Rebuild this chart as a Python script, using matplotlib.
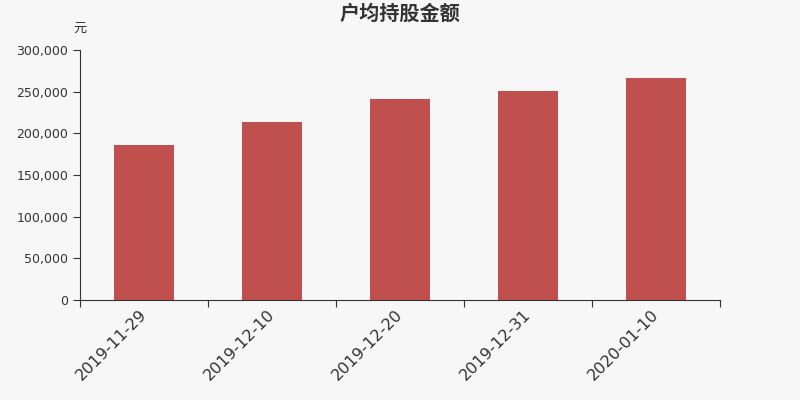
import matplotlib.pyplot as plt
import numpy as np
from matplotlib.ticker import FuncFormatter, FixedLocator

plt.rcParams['font.family'] = ['DejaVu Sans', 'Noto Sans CJK SC']

dates = ["2019-11-29", "2019-12-10", "2019-12-20", "2019-12-31", "2020-01-10"]
amounts = [185600, 213200, 241500, 250800, 266000]

BG = "#f7f7f7"
BAR = "#c0504d"
TXT = "#333333"

fig = plt.figure(figsize=(8, 4), dpi=100, facecolor=BG)
ax = fig.add_axes([0.1, 0.25, 0.8, 0.625], facecolor=BG)

x = np.arange(len(dates))
ax.bar(x, amounts, width=0.47, color=BAR, edgecolor="none", zorder=2)

ax.set_xlim(-0.5, len(dates) - 0.5)
ax.set_ylim(0, 300000)
ax.set_yticks(np.arange(0, 300001, 50000))
ax.yaxis.set_major_formatter(FuncFormatter(lambda v, p: f"{int(v):,}"))

# ticks sit between categories, labels under the bars
ax.xaxis.set_major_locator(FixedLocator(np.arange(-0.5, len(dates), 1.0)))
ax.xaxis.set_major_formatter(FuncFormatter(lambda v, p: ""))
ax.set_xticks(x, minor=True)
ax.set_xticklabels(dates, minor=True, rotation=45, ha="right", va="center",
                   rotation_mode="anchor", fontsize=11.5, color=TXT)
ax.tick_params(axis="x", which="minor", length=0, pad=9)
ax.tick_params(axis="x", which="major", length=5, color=TXT, direction="out")
ax.tick_params(axis="y", length=5, color=TXT, labelsize=9, labelcolor=TXT)

for s in ["top", "right"]:
    ax.spines[s].set_visible(False)
for s in ["left", "bottom"]:
    ax.spines[s].set_color(TXT)

fig.text(0.5, 0.965, "户均持股金额", ha="center", va="center",
         fontsize=14.5, fontweight="bold", color=TXT)
fig.text(0.1, 0.93, "元", ha="center", va="center", fontsize=9.5, color=TXT)

fig.savefig("out.png", dpi=100, facecolor=BG)
